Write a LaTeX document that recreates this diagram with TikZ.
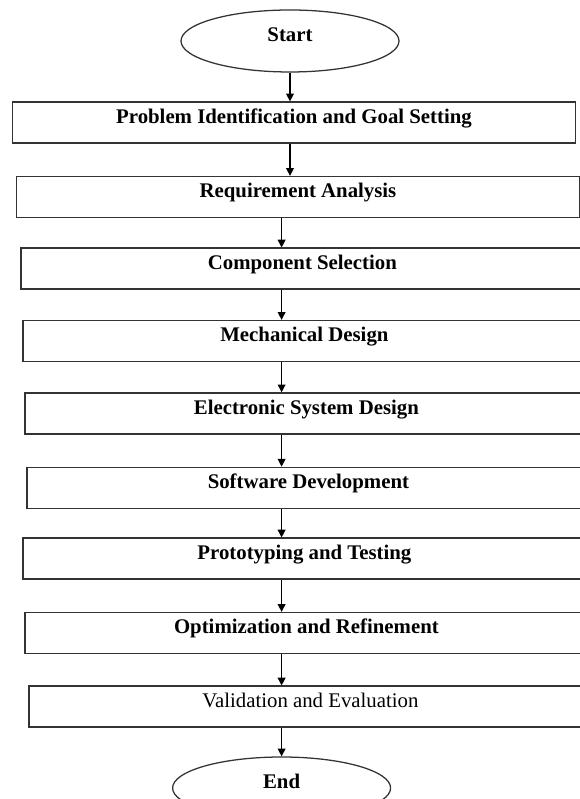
\documentclass[tikz,border=0pt]{standalone}
\usepackage{fontspec}
\setmainfont{Liberation Serif}
\usetikzlibrary{arrows.meta,shapes.geometric}

\begin{document}
\begin{tikzpicture}[line width=0.9pt,
				stepbox/.style={draw=black!80,rectangle,minimum width=14.075cm,minimum height=1.025cm,inner sep=0pt,text height=8pt,text depth=7pt,font=\fontsize{14.8}{16}\selectfont\bfseries},
				terminal/.style={draw=black!80,ellipse,minimum width=5.45cm,minimum height=1.55cm,inner sep=0pt,text height=8pt,text depth=7pt,font=\fontsize{14.8}{16}\selectfont\bfseries},
				arr/.style={-{Triangle[width=5.5pt,length=5.5pt]}}
			]
			\path[use as bounding box,clip] (0,0) rectangle (14.5,19.975);
			\node[terminal] (start) at (7.25,18.95) {Start};
			\node[stepbox,line width=1pt] (b1) at (7.35,16.91) {Problem Identification and Goal Setting};
			\node[stepbox] (b2) at (7.45,15.05) {Requirement Analysis};
			\node[stepbox] (b3) at (7.56,13.26) {Component Selection};
			\node[stepbox] (b4) at (7.61,11.45) {Mechanical Design};
			\node[stepbox] (b5) at (7.66,9.64) {Electronic System Design};
			\node[stepbox] (b6) at (7.71,7.78) {Software Development};
			\node[stepbox] (b7) at (7.61,6.01) {Prototyping and Testing};
			\node[stepbox] (b8) at (7.66,4.15) {Optimization and Refinement};
			\node[stepbox,font=\fontsize{14.8}{16}\selectfont] (b9) at (7.76,2.31) {Validation and Evaluation};
			\node[terminal] (end) at (7.04,0.275) {End};
			\draw[arr] (start.south) -- (start.south |- b1.north);
			\draw[arr] (b1.south -| start) -- (b2.north -| start);
			\draw[arr] (b2.south -| end) -- (b3.north -| end);
			\draw[arr] (b3.south -| end) -- (b4.north -| end);
			\draw[arr] (b4.south -| end) -- (b5.north -| end);
			\draw[arr] (b5.south -| end) -- (b6.north -| end);
			\draw[arr] (b6.south -| end) -- (b7.north -| end);
			\draw[arr] (b7.south -| end) -- (b8.north -| end);
			\draw[arr] (b8.south -| end) -- (b9.north -| end);
			\draw[arr] (b9.south -| end) -- (end.north);
		\end{tikzpicture}
\end{document}
